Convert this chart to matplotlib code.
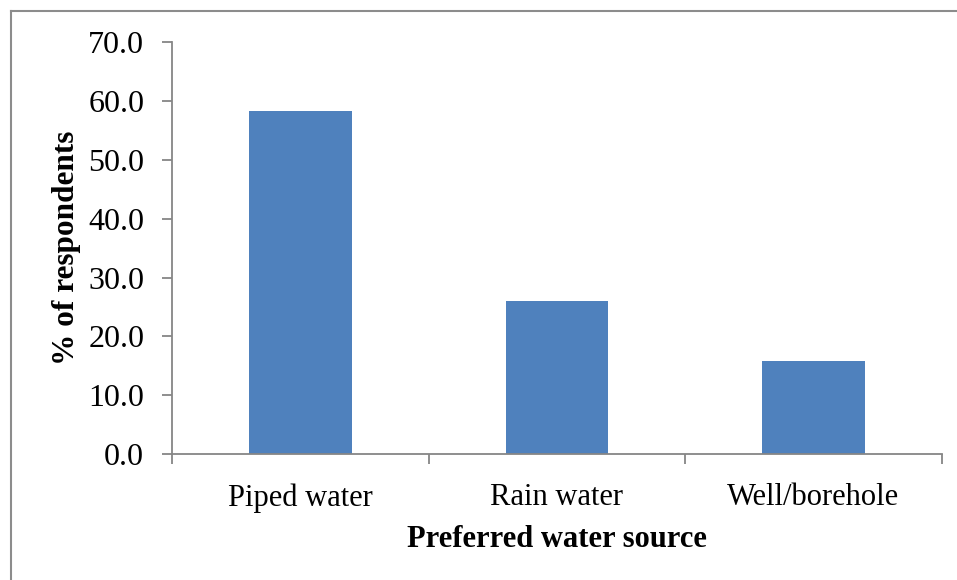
import matplotlib
matplotlib.use("Agg")
import matplotlib.pyplot as plt
from matplotlib.lines import Line2D

sources = ["Piped water", "Rain water", "Well/borehole"]
percent = [58.2, 26.0, 15.8]
yticks = [0, 10, 20, 30, 40, 50, 60, 70]

plt.rcParams['font.family'] = ['Liberation Serif', 'DejaVu Serif']

fig = plt.figure(figsize=(9.57, 5.80), dpi=100)
ax = fig.add_axes([0.1797, 0.217, 0.8043, 0.7106])

pos = list(range(len(sources)))
ax.bar(pos, percent, width=0.4, color="#4F81BD", zorder=2)

ax.set_xlim(-0.5, len(sources) - 0.5)
ax.set_ylim(0, 70)
ax.set_yticks(yticks)
ax.set_yticklabels([f"{v:.1f}" for v in yticks])

# category names sit between boundary ticks, like Excel
ax.set_xticks([p - 0.5 for p in pos] + [len(sources) - 0.5])
ax.set_xticklabels([])
ax.set_xticks(pos, minor=True)
ax.set_xticklabels(sources, minor=True)
ax.tick_params(axis="x", which="minor", length=0, pad=21, labelsize=22)
ax.tick_params(axis="x", which="major", length=7, width=1.3, color="#868686")
ax.tick_params(axis="y", length=7, width=1.3, color="#868686", labelsize=23, pad=13)

for side in ["top", "right"]:
    ax.spines[side].set_visible(False)
for side in ["left", "bottom"]:
    ax.spines[side].set_color("#868686")
    ax.spines[side].set_linewidth(1.3)

ax.set_ylabel("% of respondents", fontsize=22.5, fontweight="bold", labelpad=5)
ax.set_xlabel("Preferred water source", fontsize=22, fontweight="bold", labelpad=9)

# outer chart frame (cut off at right and bottom)
fig.add_artist(Line2D([11 / 957, 11 / 957], [0, 1 - 11 / 580], color="#8c8c8c", lw=1.5))
fig.add_artist(Line2D([11 / 957, 1], [1 - 11 / 580, 1 - 11 / 580], color="#8c8c8c", lw=1.5))

fig.savefig("out.png", dpi=100)
